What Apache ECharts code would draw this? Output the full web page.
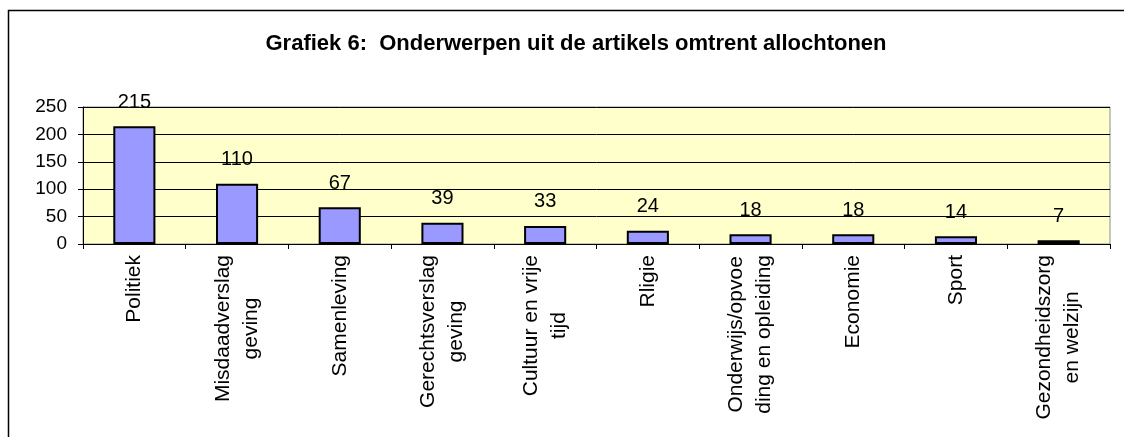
<!DOCTYPE html>
<html>
<head>
<meta charset="utf-8">
<script src="https://cdn.jsdelivr.net/npm/echarts@6/dist/echarts.min.js"></script>
<style>
html, body { margin: 0; padding: 0; background: #fff; }
#main { width: 1124px; height: 437px; }
</style>
</head>
<body>
<div id="main"></div>
<script>
var categories = ['Politiek', 'Misdaadverslag\ngeving', 'Samenleving', 'Gerechtsverslag\ngeving',
    'Cultuur en vrije\ntijd', 'Rligie', 'Onderwijs/opvoe\nding en opleiding', 'Economie', 'Sport',
    'Gezondheidszorg\nen welzijn'];
var counts = [215, 110, 67, 39, 33, 24, 18, 18, 14, 7];
var yTicks = [0, 50, 100, 150, 200, 250];

var font = 'Liberation Sans, Arial, sans-serif';
var myChart = echarts.init(document.getElementById('main'));
var option = {
    backgroundColor: '#fff',
    animation: false,
    title: {
        text: 'Grafiek 6:  Onderwerpen uit de artikels omtrent allochtonen',
        left: 571,
        top: 28,
        textAlign: 'center',
        textStyle: { fontFamily: font, fontSize: 22, fontWeight: 'bold', color: '#000' }
    },
    graphic: [{
        type: 'rect',
        shape: { x: 8.5, y: 10.5, width: 1300, height: 1000 },
        style: { fill: 'none', stroke: '#000', lineWidth: 1.5 },
        silent: true
    }],
    grid: {
        left: 83, right: 14, top: 107, bottom: 193,
        show: true,
        backgroundColor: '#FFFFCC',
        borderColor: '#8c8c8c',
        borderWidth: 1
    },
    xAxis: {
        type: 'category',
        data: categories,
        axisLine: { lineStyle: { color: '#000', width: 1 } },
        axisTick: { show: true, length: 5, lineStyle: { color: '#000' } },
        axisLabel: {
            interval: 0,
            rotate: 90,
            margin: 11,
            color: '#000',
            fontFamily: font,
            fontSize: 21,
            lineHeight: 28,
            formatter: function (v) {
                return v.split('\n').map(function (s) { return '{c|' + s + '}'; }).join('\n');
            },
            rich: {
                c: { align: 'center', fontFamily: font, fontSize: 21, lineHeight: 28, color: '#000' }
            }
        }
    },
    yAxis: {
        type: 'value',
        min: yTicks[0],
        max: yTicks[yTicks.length - 1],
        interval: 50,
        axisLine: { show: true, lineStyle: { color: '#000', width: 1 } },
        axisTick: { show: true, length: 5, lineStyle: { color: '#000' } },
        axisLabel: { margin: 16, color: '#000', fontFamily: font, fontSize: 19 },
        splitLine: { show: true, lineStyle: { color: '#000', width: 1 } }
    },
    series: [{
        type: 'bar',
        data: counts,
        barWidth: '41%',
        itemStyle: { color: '#9999FF', borderColor: '#000', borderWidth: 2 },
        label: {
            show: true,
            position: 'top',
            distance: 14,
            color: '#000',
            fontFamily: font,
            fontSize: 20
        }
    }]
};
myChart.setOption(option);
</script>
</body>
</html>
